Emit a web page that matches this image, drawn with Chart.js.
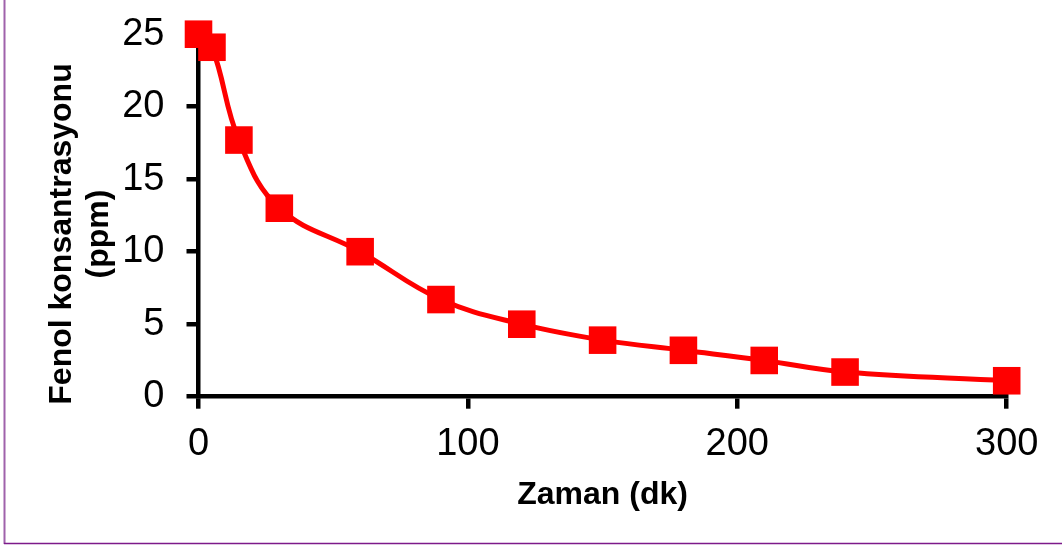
<!DOCTYPE html>
<html>
<head>
<meta charset="utf-8">
<script src="https://cdn.jsdelivr.net/npm/chart.js@4.4.1/dist/chart.umd.min.js"></script>
<style>
  html, body { margin: 0; padding: 0; background: #ffffff; }
  #wrap { width: 1062px; height: 545px; position: relative; }
</style>
</head>
<body>
<div id="wrap"><canvas id="c" width="1062" height="545"></canvas></div>
<script>
// Phenol concentration over time
const times = [0, 5, 15, 30, 60, 90, 120, 150, 180, 210, 240, 300];          // dk
const phenol = [25, 24.1, 17.7, 13, 10, 6.7, 5, 3.9, 3.2, 2.5, 1.7, 1.1];   // ppm
const xTickValues = [0, 100, 200, 300];
const yTickValues = [0, 5, 10, 15, 20, 25];
const xTitle = 'Zaman (dk)';
const yTitleLines = ['Fenol konsantrasyonu', '(ppm)'];

const FONT = '"Liberation Sans", Arial, sans-serif';

// Frame lines and axis titles drawn on the canvas
const framePlugin = {
  id: 'frame',
  beforeDraw(chart) {
    const ctx = chart.ctx;
    ctx.save();
    ctx.fillStyle = '#ffffff';
    ctx.fillRect(0, 0, chart.width, chart.height);
    ctx.strokeStyle = '#a062ab';
    ctx.lineWidth = 2;
    ctx.beginPath();
    ctx.moveTo(4.5, 0);
    ctx.lineTo(4.5, 544);
    ctx.stroke();
    ctx.strokeStyle = '#7d1a8a';
    ctx.lineWidth = 1.5;
    ctx.beginPath();
    ctx.moveTo(4, 543.5);
    ctx.lineTo(chart.width, 543.5);
    ctx.stroke();
    ctx.restore();
  },
  afterDraw(chart) {
    const ctx = chart.ctx;
    const area = chart.chartArea;
    ctx.save();
    ctx.fillStyle = '#000000';
    ctx.textAlign = 'center';
    ctx.textBaseline = 'alphabetic';
    ctx.font = 'bold 32px ' + FONT;
    ctx.fillText(xTitle, (area.left + area.right) / 2, 504);

    ctx.font = 'bold 32px ' + FONT;
    const baselines = [70.5, 107.5];
    yTitleLines.forEach((line, i) => {
      ctx.save();
      ctx.translate(baselines[i], 234);
      ctx.rotate(-Math.PI / 2);
      ctx.fillText(line, 0, 0);
      ctx.restore();
    });
    ctx.restore();
  }
};

const points = times.map((t, i) => ({ x: t, y: phenol[i] }));

new Chart(document.getElementById('c'), {
  type: 'line',
  data: {
    datasets: [{
      data: points,
      borderColor: '#ff0000',
      backgroundColor: '#ff0000',
      borderWidth: 5,
      tension: 0.4,
      pointStyle: 'rect',
      pointRadius: 19.5,
      pointHoverRadius: 19.5,
      pointBorderWidth: 0,
      pointBackgroundColor: '#ff0000',
      clip: false,
      fill: false
    }]
  },
  options: {
    responsive: false,
    animation: false,
    events: [],
    layout: { padding: { top: 34.2, right: 55.3, left: 0, bottom: 0 } },
    plugins: {
      legend: { display: false },
      tooltip: { enabled: false },
      title: { display: false }
    },
    scales: {
      x: {
        type: 'linear',
        min: 0,
        max: 300,
        afterBuildTicks(scale) { scale.ticks = xTickValues.map(v => ({ value: v })); },
        afterFit(scale) {
          scale.height = 148.3;
          scale.paddingLeft = 0;
          scale.paddingRight = 0;
        },
        grid: { drawOnChartArea: false, drawTicks: true, tickLength: 12, color: '#000000', lineWidth: 4.5 },
        border: { display: true, color: '#000000', width: 4.5 },
        ticks: { color: '#000000', font: { family: FONT, size: 38 }, padding: 13, maxRotation: 0 }
      },
      y: {
        type: 'linear',
        min: 0,
        max: 25,
        afterBuildTicks(scale) { scale.ticks = yTickValues.map(v => ({ value: v })); },
        afterFit(scale) {
          scale.width = 198.5;
          scale.paddingTop = 0;
          scale.paddingBottom = 0;
        },
        grid: { drawOnChartArea: false, drawTicks: true, tickLength: 12, color: '#000000', lineWidth: 4.5 },
        border: { display: true, color: '#000000', width: 4.5 },
        ticks: { color: '#000000', font: { family: FONT, size: 38 }, padding: 22 }
      }
    }
  },
  plugins: [framePlugin]
});
</script>
</body>
</html>
